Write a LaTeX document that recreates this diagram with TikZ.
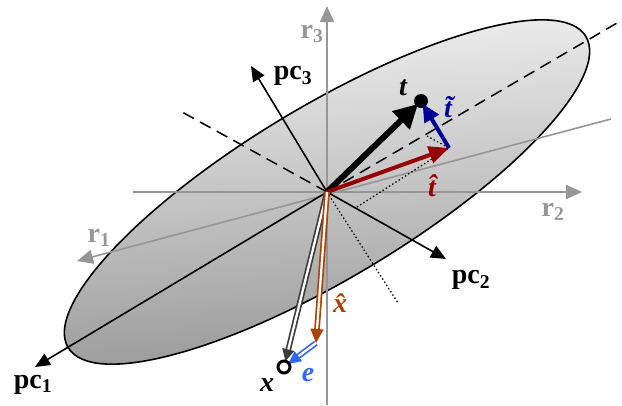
\documentclass[tikz,border=0pt]{standalone}
\usepackage{fontspec}
\setmainfont{Liberation Serif}
\usetikzlibrary{arrows.meta}
\definecolor{axgray}{RGB}{150,150,150}
\definecolor{thatred}{RGB}{150,0,0}
\definecolor{ttilblue}{RGB}{0,0,150}
\definecolor{xhatbrown}{RGB}{175,65,5}
\definecolor{eblue}{RGB}{51,102,255}
\definecolor{xgray}{RGB}{60,60,60}
\begin{document}
\begin{tikzpicture}[x=1pt,y=-1pt, line join=miter,
 raxis/.style={draw=axgray, line width=1.6pt, -{Triangle[length=16pt,width=14pt]}},
 pcaxis/.style={draw=black, line width=1.6pt, -{Triangle[length=15pt,width=13pt]}},
 lbl/.style={font=\fontsize{28}{30}\selectfont\bfseries, inner sep=0pt},
 rlbl/.style={lbl, text=axgray},
 vlbl/.style={font=\fontsize{28}{30}\selectfont\bfseries\itshape, inner sep=0pt},
 dbl/.style={draw=#1, line width=1.7pt, double=white, double distance=2.3pt},
 dotl/.style={draw=black, line width=1.3pt, dash pattern=on 1.4pt off 2.4pt},
 dashl/.style={draw=black, line width=1.5pt, dash pattern=on 12pt off 7pt},
]
\useasboundingbox (0,0) rectangle (622,405);
\coordinate (O) at (327,192);
% ellipse
\shade[rotate around={31:(O)}, top color=gray!8, middle color=gray!35, bottom color=gray!85, shading angle=4]
  (O) ellipse [x radius=302, y radius=86];
\draw[line width=1.6pt, rotate around={31:(O)}] (O) ellipse [x radius=302, y radius=86];
% r axes
\coordinate (r3b) at (327,405);
\coordinate (r3t) at (327,6);
\coordinate (r2l) at (133,192);
\coordinate (r2r) at (582,192);
\coordinate (r1s) at (611,119);
\coordinate (r1e) at (77,261);
\draw[raxis] (r3b) -- (r3t);
\draw[raxis] (r2l) -- (r2r);
\draw[raxis] (r1s) -- (r1e);
\node[rlbl] (r3) at (312,34) {r\textsubscript{3}};
\node[rlbl] (r2) at (553,212) {r\textsubscript{2}};
\node[rlbl] (r1) at (99,238) {r\textsubscript{1}};
% pc axes
\coordinate (pc1e) at (35,367);
\coordinate (pc1d) at (617,23);
\coordinate (pc2e) at (446,259);
\coordinate (pc2d) at (182,112);
\coordinate (pc3e) at (251,66);
\coordinate (pc3d) at (398,303);
\draw[pcaxis] (O) -- (pc1e);
\draw[pcaxis] (O) -- (pc2e);
\draw[pcaxis] (O) -- (pc3e);
\draw[dashl] (O) -- (pc1d);
\draw[dashl] (O) -- (pc2d);
\draw[dotl] (O) -- (pc3d);
\node[lbl] (pc1) at (33,385) {pc\textsubscript{1}};
\node[lbl] (pc2) at (471,280) {pc\textsubscript{2}};
\node[lbl] (pc3) at (293,76) {pc\textsubscript{3}};
% t vectors
\coordinate (tp) at (421,101);
\coordinate (th) at (449,148);
\coordinate (dA) at (357,207);
\coordinate (dB) at (427,136);
\draw[dotl] (dA) -- (th) -- (dB);
\draw[line width=6pt, -{Triangle[length=24pt,width=24pt]}, shorten >=4pt] (O) -- (tp);
\fill (tp) circle (7);
\draw[draw=thatred, line width=4pt, -{Triangle[length=20pt,width=17pt]}] (O) -- (th);
\draw[draw=ttilblue, line width=4pt, -{Triangle[length=18pt,width=16pt]}, shorten >=3pt] (th) -- (tp);
\node[vlbl] (tl) at (403,88) {t};
\node[vlbl, text=thatred] (thl) at (432,186) {\^{t}};
\node[vlbl, text=ttilblue] (ttl) at (448,107) {\~{t}};
% x vectors
\coordinate (xp) at (284,367);
\coordinate (xh) at (316,343);
\draw[dbl=xgray, -{Triangle[length=12pt,width=12pt]}, shorten >=6pt] (O) -- (xp);
\draw[dbl=xhatbrown, -{Triangle[length=14pt,width=13pt]}] (O) -- (xh);
\draw[dbl=eblue, -{Triangle[length=13pt,width=12pt]}, shorten >=5pt] (xh) -- (xp);
\draw[line width=3pt, fill=white] (xp) circle (6);
\node[vlbl] (xl) at (267,385) {x};
\node[vlbl, text=eblue] (el) at (308,375) {e};
\node[vlbl, text=xhatbrown] (xhl) at (340,303) {\^{x}};
\end{tikzpicture}
\end{document}
